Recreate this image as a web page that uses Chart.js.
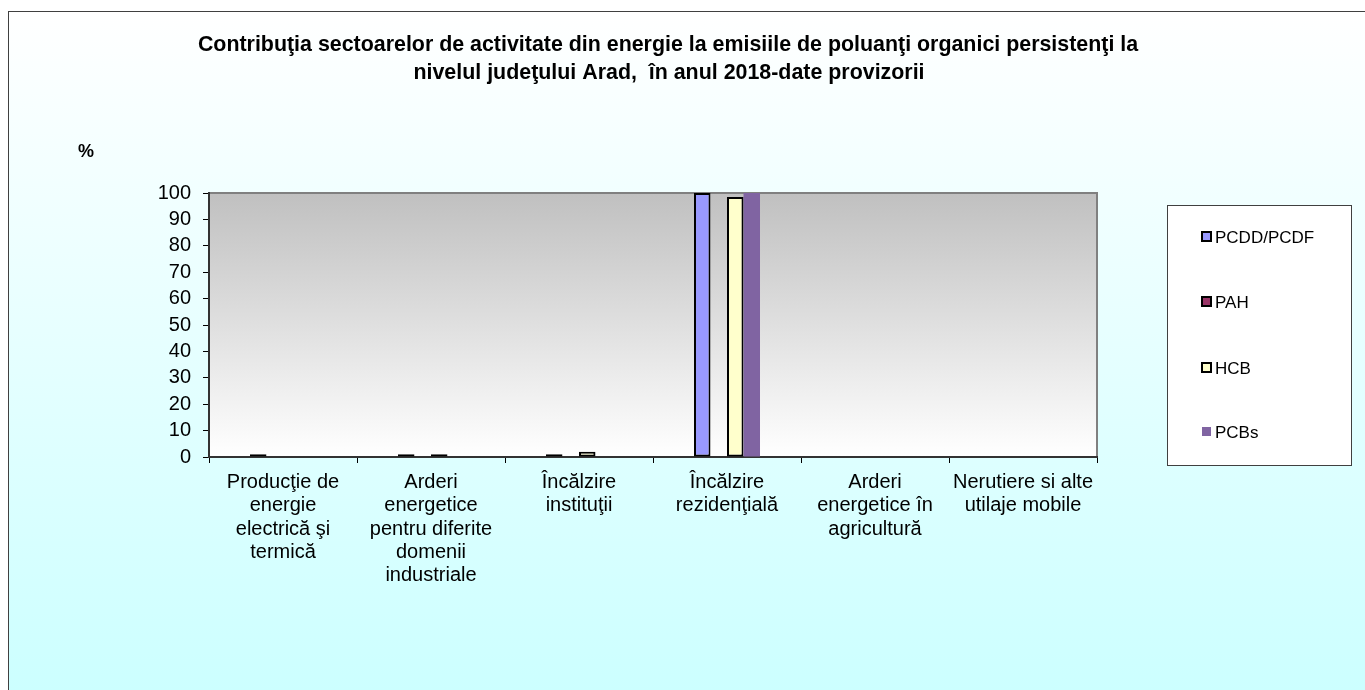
<!DOCTYPE html>
<html>
<head>
<meta charset="utf-8">
<script src="https://cdn.jsdelivr.net/npm/chart.js@4"></script>
<style>
  html, body { margin: 0; padding: 0; background: #fff; }
  #wrap { width: 1365px; height: 690px; }
</style>
</head>
<body>
<div id="wrap"><canvas id="chart" width="1365" height="690"></canvas></div>
<script>
// sectors on the x axis (multi-line labels)
const categories = [
  ["Producţie de", "energie", "electrică şi", "termică"],
  ["Arderi", "energetice", "pentru diferite", "domenii", "industriale"],
  ["Încălzire", "instituţii"],
  ["Încălzire", "rezidenţială"],
  ["Arderi", "energetice în", "agricultură"],
  ["Nerutiere si alte", "utilaje mobile"],
];
const seriesNames = ["PCDD/PCDF", "PAH", "HCB", "PCBs"];
const pcdd = [1, 1, 1, 100, 0, 0];
const pah = [0, 0, 0, 0, 0, 0];
const hcb = [0, 1, 2, 98.5, 0, 0];
const pcbs = [0, 0, 0, 100, 0, 0];
const yTicks = [0, 10, 20, 30, 40, 50, 60, 70, 80, 90, 100];

const titleLines = [
  "Contribuţia sectoarelor de activitate din energie la emisiile de poluanţi organici persistenţi la",
  "nivelul judeţului Arad,  în anul 2018-date provizorii",
];

const fillColors = ["#9999ff", "#993366", "#ffffcc", "#8064a2"];
const borderColors = ["#000", "#000", "#000", "rgba(0,0,0,0)"];
const FONT = "'Liberation Sans', Arial, sans-serif";

const backdrop = {
  id: "backdrop",
  beforeDraw(chart) {
    const { ctx, chartArea: a } = chart;
    ctx.save();
    // page background
    const g = ctx.createLinearGradient(0, 11, 0, 690);
    g.addColorStop(0, "#ffffff");
    g.addColorStop(1, "#ccffff");
    ctx.fillStyle = g;
    ctx.fillRect(8, 11, 1357, 679);
    ctx.strokeStyle = "#404040";
    ctx.lineWidth = 1;
    ctx.strokeRect(8.5, 11.5, 1362, 690);
    // plot area
    const p = ctx.createLinearGradient(0, a.top, 0, a.bottom);
    p.addColorStop(0, "#c0c0c0");
    p.addColorStop(1, "#ffffff");
    ctx.fillStyle = p;
    ctx.fillRect(a.left, a.top, a.right - a.left, a.bottom - a.top);
    ctx.strokeStyle = "#808080";
    ctx.lineWidth = 2;
    ctx.beginPath();
    ctx.moveTo(a.left, a.top);
    ctx.lineTo(a.right, a.top);
    ctx.lineTo(a.right, a.bottom);
    ctx.stroke();
    ctx.restore();
  },
  afterDraw(chart) {
    const { ctx } = chart;
    ctx.save();
    ctx.fillStyle = "#000";
    ctx.textAlign = "center";
    ctx.textBaseline = "middle";
    ctx.font = "bold 21.4px " + FONT;
    ctx.fillText(titleLines[0], 668, 45);
    ctx.fillText(titleLines[1], 669, 73);
    ctx.font = "bold 18px " + FONT;
    ctx.fillText("%", 86, 152);

    // legend box
    ctx.fillStyle = "#ffffff";
    ctx.fillRect(1167, 205, 184, 260);
    ctx.strokeStyle = "#404040";
    ctx.lineWidth = 1;
    ctx.strokeRect(1167.5, 205.5, 184, 260);
    ctx.textAlign = "left";
    ctx.font = "17px " + FONT;
    const rows = [237, 302, 368, 432];
    chart.data.datasets.forEach((ds, i) => {
      const y = rows[i];
      ctx.fillStyle = ds.backgroundColor;
      ctx.fillRect(1202, y - 5, 9, 9);
      if (ds.borderWidth) {
        ctx.strokeStyle = "#000";
        ctx.lineWidth = 2;
        ctx.strokeRect(1202, y - 5, 9, 9);
      }
      ctx.fillStyle = "#000";
      ctx.fillText(ds.label, 1215, y + 1);
    });
    ctx.restore();
  },
};

const datasets = [pcdd, pah, hcb, pcbs].map((vals, i) => ({
  label: seriesNames[i],
  data: vals,
  backgroundColor: fillColors[i],
  borderColor: borderColors[i],
  borderWidth: i === 3 ? 0 : 2,
  borderSkipped: false,
  categoryPercentage: 0.446,
  barPercentage: 1,
}));

new Chart(document.getElementById("chart"), {
  type: "bar",
  data: { labels: categories, datasets },
  options: {
    responsive: false,
    animation: false,
    events: [],
    layout: { padding: { left: 0, top: 193, right: 268, bottom: 93 } },
    plugins: { legend: { display: false }, title: { display: false }, tooltip: { enabled: false } },
    scales: {
      x: {
        offset: true,
        afterFit: (s) => { s.height = 140; },
        grid: { offset: true, drawOnChartArea: false, drawTicks: true, tickLength: 6, color: "#000" },
        border: { display: true, color: "#333", width: 2 },
        ticks: {
          color: "#000",
          padding: 8,
          maxRotation: 0,
          autoSkip: false,
          font: { family: FONT, size: 20, lineHeight: 1.16 },
        },
      },
      y: {
        min: 0,
        max: 100,
        afterFit: (s) => { s.width = 209; },
        afterBuildTicks: (s) => { s.ticks = yTicks.map((v) => ({ value: v })); },
        grid: { drawOnChartArea: false, drawTicks: true, tickLength: 6, color: "#000" },
        border: { display: true, color: "#333", width: 2 },
        ticks: {
          color: "#000",
          padding: 12,
          autoSkip: false,
          font: { family: FONT, size: 20 },
        },
      },
    },
  },
  plugins: [backdrop],
});
</script>
</body>
</html>
